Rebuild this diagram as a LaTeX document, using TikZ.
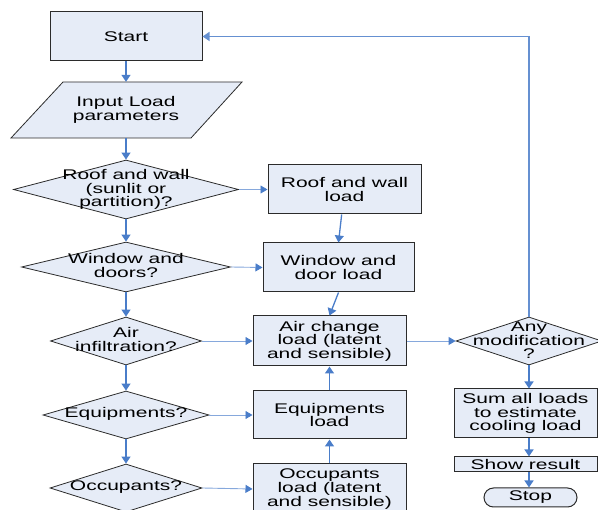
\documentclass[tikz,border=0pt]{standalone}
\usepackage{fontspec}
\setmainfont{Liberation Sans}[FakeStretch=1.5]
\usetikzlibrary{shapes.geometric,arrows.meta}
\definecolor{boxfill}{HTML}{E6ECF7}
\definecolor{arr}{HTML}{4A7DC9}
\definecolor{arrlight}{HTML}{86A8DC}
\definecolor{edgec}{HTML}{2B2B2B}
\newcommand\myfs{\fontsize{14pt}{13.6pt}\selectfont}
\tikzset{
 box/.style={draw=edgec, fill=boxfill, line width=1pt, rectangle, inner sep=0pt, align=center, font=\myfs},
 dia/.style={draw=edgec, fill=boxfill, line width=0.8pt, diamond, inner sep=0pt},
 lbl/.style={align=center, font=\myfs, inner sep=0pt},
 varr/.style={draw=arr, line width=1.3pt, -{Triangle[length=7pt,width=9pt]}},
 harr/.style={draw=arrlight, line width=0.9pt, -{Triangle[length=7pt,width=8pt,color=arr]}},
 backline/.style={draw=arr!85!white, line width=1.3pt, -{Triangle[length=7pt,width=9pt]}}
}
\begin{document}
\begin{tikzpicture}[x=1pt,y=-1pt]
\useasboundingbox (0,0) rectangle (598,510);
\clip (0,0) rectangle (598,510);
% left column
\node[box, minimum width=152pt, minimum height=49pt] (start) at (126,36.5) {Start};
\draw[draw=edgec, fill=boxfill, line width=0.8pt] (63,82) -- (242,82) -- (191,138) -- (11,138) -- cycle;
\node[lbl, minimum width=180pt, minimum height=56pt] (input) at (126,110) {Input Load\\parameters};
\node[dia, minimum width=225pt, minimum height=59pt] (roofq) at (126,189.5) {};
\node[lbl] at (126,189.5) {Roof and wall\\(sunlit or\\partition)?};
\node[dia, minimum width=209pt, minimum height=50pt] (winq) at (126,267) {};
\node[lbl] at (126,265.5) {Window and\\doors?};
\node[dia, minimum width=151pt, minimum height=48pt] (airq) at (126,341) {};
\node[lbl] at (126,339.5) {Air\\infiltration?};
\node[dia, minimum width=166pt, minimum height=48pt] (equq) at (126,415) {};
\node[lbl] at (126,413.5) {Equipments?};
\node[dia, minimum width=152pt, minimum height=48pt] (occq) at (126,488) {};
\node[lbl] at (126,487) {Occupants?};
% middle column
\node[box, minimum width=153pt, minimum height=49pt] (roofl) at (344.5,189.5) {Roof and wall\\load};
\node[box, minimum width=151pt, minimum height=49pt] (winl) at (338.5,267.5) {Window and\\door load};
\node[box, minimum width=153pt, minimum height=50pt] (airl) at (329.5,341) {Air change\\load (latent\\and sensible)};
\node[box, minimum width=153pt, minimum height=48pt] (equl) at (329.5,415) {Equipments\\load};
\node[box, minimum width=153pt, minimum height=50pt] (occl) at (329.5,489) {Occupants\\load (latent\\and sensible)};
% right column
\node[dia, minimum width=146pt, minimum height=48pt] (anyq) at (529,341) {};
\node[lbl] at (529,340.5) {Any\\modification\\?};
\node[box, minimum width=143pt, minimum height=49pt] (sum) at (525.5,413.5) {Sum all loads\\to estimate\\cooling load};
\node[box, minimum width=143pt, minimum height=15pt] (show) at (525.5,464.5) {Show result};
\node[box, minimum width=93pt, minimum height=19pt, rounded corners=9.5pt] (stop) at (530.5,497.5) {Stop};
% vertical arrows
\draw[varr] (start) -- (input.north);
\draw[varr] (input.south) -- (roofq.north);
\draw[varr] (roofq) -- (winq);
\draw[varr] (winq) -- (airq);
\draw[varr] (airq) -- (equq);
\draw[varr] (equq) -- (occq);
\draw[varr] (roofl) -- (winl.north);
\draw[varr] (winl.south) -- (airl.north);
\draw[varr] (equl) -- (airl);
\draw[varr] (occl) -- (equl);
\draw[varr] (anyq.south) -- (anyq.south |- sum.north);
\draw[varr] (anyq.south |- sum.south) -- (anyq.south |- show.north);
\draw[varr] (anyq.south |- show.south) -- (anyq.south |- stop.north);
% horizontal arrows
\draw[harr] (roofq.east) -- (roofl.west);
\draw[harr] (winq.east) -- (winl.west);
\draw[harr] (airq.east) -- (airl.west);
\draw[harr] (equq.east) -- (equl.west);
\draw[harr] (occq.east) -- (occl.west);
\draw[harr] (airl.east) -- (anyq.west);
% return line
\draw[backline] (anyq.north) |- (start.east);
\end{tikzpicture}
\end{document}
